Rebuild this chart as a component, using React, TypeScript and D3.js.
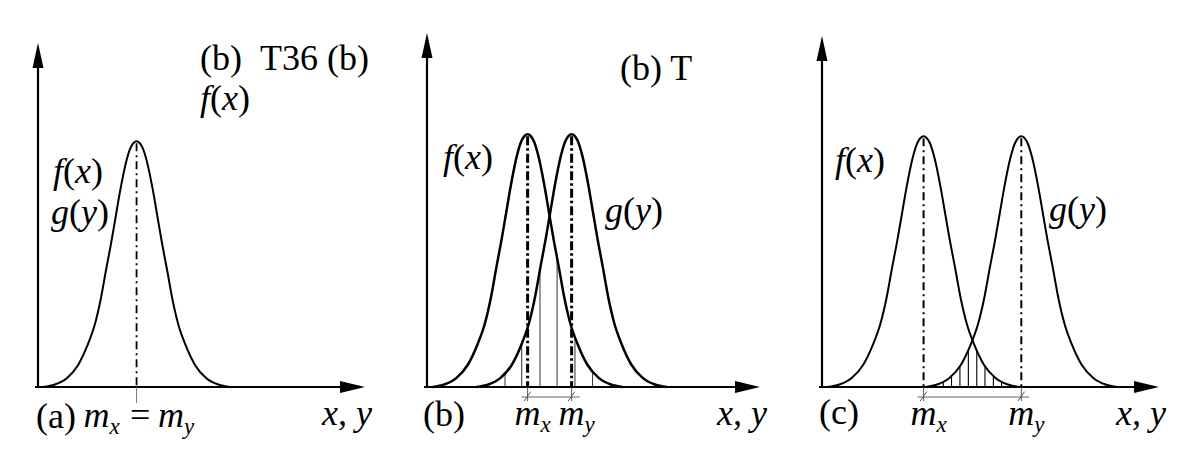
import * as d3 from "d3";

// bell profile (a)/(c): offset in x-units from the mean, height relative to the peak
const BELL_U = [-4, -3.5, -3, -2.5, -2.1, -1.8, -1.55, -1.3, -1.1, -0.9, -0.7, -0.45, -0.25, 0, 0.25, 0.45, 0.7, 0.9, 1.1, 1.3, 1.55, 1.8, 2.1, 2.5, 3, 3.5, 4];
const BELL_H = [0, 0.01, 0.035, 0.09, 0.17, 0.25, 0.35, 0.48, 0.58, 0.69, 0.8, 0.915, 0.975, 1, 0.975, 0.915, 0.8, 0.69, 0.58, 0.48, 0.35, 0.25, 0.17, 0.09, 0.035, 0.01, 0];

const PANEL_TAGS = ["(a)", "(b)", "(c)"];
const M_X = [4.22, 4.23, 4.22];
const M_Y = [4.22, 6.08, 8.28];
const HATCH_B = [3.28, 3.98, 4.75, 5.47, 6.22, 6.96];
const HATCH_C = [4.69, 5.04, 5.38, 5.73, 6.08, 6.43, 6.77, 7.12, 7.46, 7.81];
const HATCH = [[], HATCH_B, HATCH_C];
const X_MAX = 14;
const Y_MAX = 1.4;

const BASE = 387;
const FRAME = [
  { x0: 38, x1: 365, top: 43, w: 2, meanW: 1.8, dash: "8 4 2 4", hatch: "#000", fL: [53, 183], gL: [51, 224], tag: [36, 428] },
  { x0: 427, x1: 760, top: 33, w: 2.5, meanW: 3, dash: "9 3 2.5 3", hatch: "#444", fL: [443, 169], gL: [605, 222], tag: [423, 426] },
  { x0: 822, x1: 1159, top: 36, w: 2, meanW: 2, dash: "8 4 2 4", hatch: "#000", fL: [835, 172], gL: [1049, 221], tag: [819, 424] },
];

type P = [number, number];

function scalesFor(i: number) {
  const f = FRAME[i];
  return {
    x: d3.scaleLinear().domain([0, X_MAX]).range([f.x0, f.x1]),
    y: d3.scaleLinear().domain([0, Y_MAX]).range([BASE, f.top]),
  };
}

function Panel({ i }: { i: number }) {
  const f = FRAME[i];
  const { x, y } = scalesFor(i);
  const pts = (m: number): P[] => BELL_U.map((u, k) => [m + u, BELL_H[k]] as P);
  const line = d3.line<P>().x((d) => x(d[0])).y((d) => y(d[1])).curve(d3.curveMonotoneX);
  const area = d3
    .area<P>()
    .x((d) => x(d[0]))
    .y0(y(0))
    .y1((d) => y(d[1]))
    .curve(d3.curveMonotoneX);
  const mx = x(M_X[i]);
  const my = x(M_Y[i]);
  const same = M_X[i] === M_Y[i];
  const ax = x(0);
  const tipX = x(X_MAX);
  const tipY = y(Y_MAX);

  return (
    <g>
      <defs>
        <clipPath id={`clipF${i}`}>
          <path d={area(pts(M_X[i])) ?? ""} />
        </clipPath>
        <clipPath id={`clipG${i}`}>
          <path d={area(pts(M_Y[i])) ?? ""} />
        </clipPath>
      </defs>

      {/* hatching under min(f, g) */}
      <g clipPath={`url(#clipF${i})`}>
        <g clipPath={`url(#clipG${i})`}>
          {HATCH[i].map((h) => (
            <line key={h} x1={x(h)} x2={x(h)} y1={y(0)} y2={y(Y_MAX)} stroke={f.hatch} strokeWidth={1.1} />
          ))}
        </g>
      </g>

      {/* means */}
      {(same ? [mx] : [mx, my]).map((xm, k) => (
        <line key={k} x1={xm} x2={xm} y1={y(1) + 2} y2={BASE} stroke="#000" strokeWidth={f.meanW} strokeDasharray={f.dash} />
      ))}

      {/* curves */}
      <path d={line(pts(M_X[i])) ?? ""} fill="none" stroke="#000" strokeWidth={f.w} />
      {!same && <path d={line(pts(M_Y[i])) ?? ""} fill="none" stroke="#000" strokeWidth={f.w} />}

      {/* axes */}
      <line x1={ax} x2={ax} y1={BASE + 1} y2={tipY + 22} stroke="#000" strokeWidth={2.2} />
      <polygon points={`${ax},${tipY} ${ax - 5.5},${tipY + 25} ${ax + 5.5},${tipY + 25}`} fill="#000" />
      <line x1={ax - 3} x2={tipX - 22} y1={BASE} y2={BASE} stroke="#000" strokeWidth={2.2} />
      <polygon points={`${tipX},${BASE} ${tipX - 25},${BASE - 6} ${tipX - 25},${BASE + 6}`} fill="#000" />

      {/* marks below the axis */}
      {same ? (
        <line x1={mx} x2={mx} y1={BASE} y2={BASE + 16} stroke="#777" strokeWidth={1} />
      ) : (
        <g stroke="#555" strokeWidth={1}>
          <line x1={mx - 6} x2={my + 8} y1={BASE + 10} y2={BASE + 10} stroke="#999" strokeWidth={1.6} />
          {[mx, my].map((xm, k) => (
            <g key={k}>
              <line x1={xm} x2={xm} y1={BASE} y2={BASE + 14} />
              <line x1={xm - 3.5} x2={xm + 3.2} y1={BASE + 14} y2={BASE + 4.7} />
            </g>
          ))}
        </g>
      )}
    </g>
  );
}

function labels(i: number) {
  const f = FRAME[i];
  const { x } = scalesFor(i);
  const mx = x(M_X[i]);
  const my = x(M_Y[i]);
  const same = M_X[i] === M_Y[i];
  const tipX = x(X_MAX);
  const mSub = (key: string, px: number, py: number, sub: string) => (
    <text key={key} x={px} y={py} style={{ fontFamily: '"Liberation Serif"', fontSize: 36, fontStyle: "italic" }}>
      m
      <tspan dy={7} style={{ fontSize: 23 }}>
        {sub}
      </tspan>
    </text>
  );
  const fn = (key: string, px: number, py: number, name: string, arg: string) => (
    <text key={key} x={px} y={py} style={{ fontFamily: '"Liberation Serif"', fontSize: 36 }}>
      <tspan style={{ fontStyle: "italic" }}>{name}</tspan>
      <tspan>(</tspan>
      <tspan style={{ fontStyle: "italic" }}>{arg}</tspan>
      <tspan>)</tspan>
    </text>
  );
  const out = [
    fn(`f${i}`, f.fL[0], f.fL[1], "f", "x"),
    fn(`g${i}`, f.gL[0], f.gL[1], "g", "y"),
    <text key={`t${i}`} x={f.tag[0]} y={f.tag[1]} style={{ fontFamily: '"Liberation Serif"', fontSize: 36 }}>
      {PANEL_TAGS[i]}
    </text>,
    <text key={`xy${i}`} x={tipX + 7} y={425} textAnchor="end" style={{ fontFamily: '"Liberation Serif"', fontSize: 36, fontStyle: "italic" }}>
      x, y
    </text>,
  ];
  if (same) {
    out.push(mSub(`mx${i}`, mx - 53, 427, "x"));
    out.push(
      <text key={`eq${i}`} x={mx + 3.5} y={427} textAnchor="middle" style={{ fontFamily: '"Liberation Serif"', fontSize: 36 }}>
        =
      </text>
    );
    out.push(mSub(`my${i}`, mx + 21.5, 427, "y"));
  } else {
    out.push(mSub(`mx${i}`, mx - 13, 425, "x"));
    out.push(mSub(`my${i}`, my - 13, 425, "y"));
  }
  return out;
}

export default function App() {
  return (
    <svg width={1192} height={462} style={{ position: "absolute", left: 0, top: 0, background: "#fff" }}>
      {PANEL_TAGS.map((_, i) => (
        <Panel key={i} i={i} />
      ))}
      {PANEL_TAGS.map((_, i) => labels(i))}
      <text x={200} y={70} style={{ fontFamily: '"Liberation Serif"', fontSize: 36 }}>(b)</text>
      <text x={260} y={70} style={{ fontFamily: '"Liberation Serif"', fontSize: 36 }}>T36 (b)</text>
      <text x={200} y={110} style={{ fontFamily: '"Liberation Serif"', fontSize: 36 }}>
        <tspan style={{ fontStyle: "italic" }}>f</tspan>(<tspan style={{ fontStyle: "italic" }}>x</tspan>)
      </text>
      <text x={620} y={80} style={{ fontFamily: '"Liberation Serif"', fontSize: 36 }}>(b) T</text>
    </svg>
  );
}
